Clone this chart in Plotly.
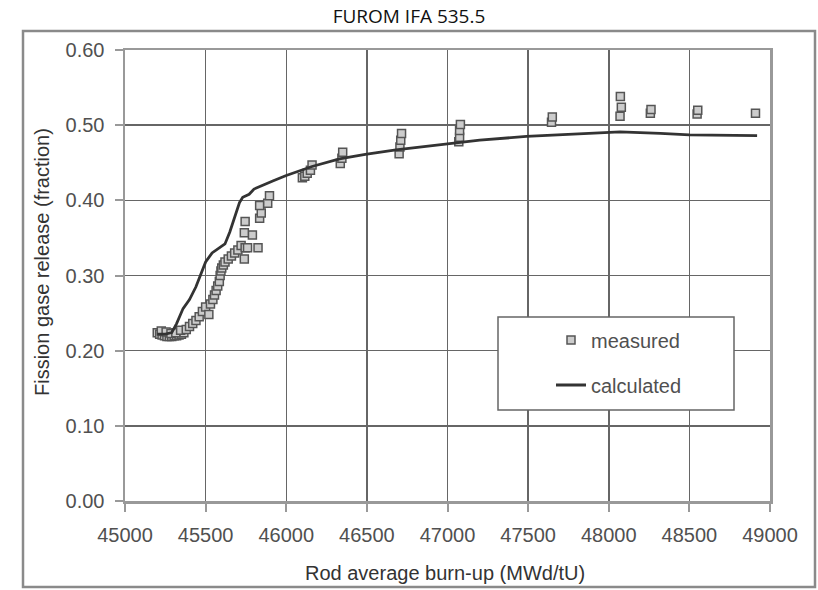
import plotly.graph_objects as go

# ---- data ----
measured_x = [45200, 45215, 45230, 45245, 45260, 45275, 45290, 45305, 45320, 45335, 45350, 45365,
              45225, 45255, 45285, 45315, 45345,
              45380, 45400, 45420, 45440, 45460, 45480, 45500, 45520, 45530, 45545, 45555, 45565,
              45575, 45585, 45590, 45595, 45600, 45610, 45620, 45640, 45660, 45680, 45700, 45720,
              45740, 45745, 45760, 45790, 45825, 45740, 45745, 45835, 45845, 45835, 45885, 45896,
              46100, 46115, 46130, 46150, 46160,
              46335, 46345, 46350,
              46700, 46705, 46710, 46715,
              47070, 47075, 47075, 47080,
              47645, 47650,
              48070, 48078, 48072,
              48258, 48262,
              48548, 48552,
              48910]
measured_y = [0.224, 0.222, 0.221, 0.220, 0.219, 0.219, 0.219, 0.220, 0.220, 0.221, 0.222, 0.224,
              0.226, 0.225, 0.223, 0.224, 0.227,
              0.228, 0.232, 0.236, 0.240, 0.245, 0.252, 0.258, 0.248, 0.262, 0.268, 0.274, 0.280,
              0.286, 0.292, 0.300, 0.306, 0.310, 0.314, 0.318, 0.322, 0.326, 0.330, 0.334, 0.340,
              0.322, 0.337, 0.337, 0.354, 0.337, 0.357, 0.372, 0.376, 0.383, 0.393, 0.396, 0.406,
              0.430, 0.432, 0.436, 0.440, 0.447,
              0.449, 0.456, 0.464,
              0.462, 0.471, 0.480, 0.489,
              0.478, 0.484, 0.493, 0.501,
              0.504, 0.511,
              0.512, 0.524, 0.538,
              0.516, 0.521,
              0.515, 0.520,
              0.516]

calc_x = [45200, 45250, 45290, 45320, 45360, 45400, 45440, 45480, 45500, 45540, 45580, 45620,
          45650, 45670, 45690, 45710, 45730, 45770, 45800, 45860, 45920, 46000, 46080, 46160,
          46330, 46490, 46680, 46880, 47050, 47200, 47490, 47800, 48000, 48070, 48320, 48500, 48920]
calc_y = [0.222, 0.222, 0.224, 0.236, 0.256, 0.268, 0.285, 0.308, 0.318, 0.330, 0.336, 0.342,
          0.358, 0.372, 0.386, 0.397, 0.404, 0.408, 0.415, 0.421, 0.426, 0.433, 0.439, 0.445,
          0.455, 0.461, 0.467, 0.472, 0.476, 0.480, 0.485, 0.488, 0.490, 0.491, 0.489, 0.487, 0.486]

x_ticks = [45000, 45500, 46000, 46500, 47000, 47500, 48000, 48500, 49000]
y_ticks = [0.0, 0.1, 0.2, 0.3, 0.4, 0.5, 0.6]

title_text = "FUROM IFA 535.5"
x_title = "Rod average burn-up (MWd/tU)"
y_title = "Fission gase release (fraction)"

# ---- layout geometry (pixels) ----
W, H = 818, 590
L, R, T, B = 125, 48, 50, 89
pw, ph = W - L - R, H - T - B


def px_x(p):
    return (p - L) / pw


def px_y(p):
    return (H - B - p) / ph


FONT = "Liberation Sans, Arial, sans-serif"

fig = go.Figure()
fig.add_trace(go.Scatter(
    x=measured_x, y=measured_y, mode="markers", name="measured", showlegend=True,
    marker=dict(symbol="square", size=8, color="#cccccc", line=dict(color="#555555", width=1.5)),
    legend="legend"))
fig.add_trace(go.Scatter(
    x=calc_x, y=calc_y, mode="lines", name="calculated", showlegend=True,
    line=dict(color="#333333", width=2.8), legend="legend2"))

axis_font = dict(family=FONT, size=20, color="#505050")
axis_common = dict(showgrid=True, gridcolor="#666666", gridwidth=1.5,
                   showline=True, linecolor="#999999", linewidth=2.5, mirror=True,
                   ticks="outside", ticklen=8, tickcolor="#999999", tickwidth=2,
                   zeroline=False, tickfont=axis_font)

legend_font = dict(family=FONT, size=20, color="#505050")

fig.update_layout(
    width=W, height=H, showlegend=True,
    margin=dict(l=L, r=R, t=T, b=B),
    paper_bgcolor="white", plot_bgcolor="white",
    title=dict(text=title_text, x=0.5, xref="container", xanchor="center",
               y=1 - 16 / H, yref="container", yanchor="middle",
               font=dict(family="Open Sans", size=19, color="#111111")),
    xaxis=dict(range=[45000, 49000], tickvals=x_ticks, ticktext=[str(v) for v in x_ticks],
               ticklabelstandoff=6, **axis_common),
    yaxis=dict(range=[0, 0.6], tickvals=y_ticks, ticktext=["%.2f" % v for v in y_ticks],
               ticklabelstandoff=6, **axis_common),
    legend=dict(x=px_x(551), y=px_y(340), xref="paper", yref="paper",
                xanchor="left", yanchor="middle", bgcolor="rgba(0,0,0,0)", font=legend_font),
    legend2=dict(x=px_x(551), y=px_y(385), xref="paper", yref="paper",
                 xanchor="left", yanchor="middle", bgcolor="rgba(0,0,0,0)", font=legend_font),
    annotations=[
        dict(text=x_title, xref="paper", yref="paper", x=px_x(445), y=px_y(573),
             xanchor="center", yanchor="middle", showarrow=False,
             font=dict(family=FONT, size=20, color="#333333")),
        dict(text=y_title, xref="paper", yref="paper", x=px_x(42), y=px_y(262),
             xanchor="center", yanchor="middle", showarrow=False, textangle=-90,
             font=dict(family=FONT, size=20, color="#333333")),
    ],
    shapes=[
        # legend box
        dict(type="rect", xref="paper", yref="paper",
             x0=px_x(498), x1=px_x(734), y0=px_y(410), y1=px_y(317),
             fillcolor="white", line=dict(color="#666666", width=1.5), layer="above"),
        # outer chart frame
        dict(type="rect", xref="paper", yref="paper",
             x0=px_x(23), x1=px_x(815), y0=px_y(587), y1=px_y(31),
             fillcolor="rgba(0,0,0,0)", line=dict(color="#8a8a8a", width=2.5), layer="below"),
    ],
)

fig.write_html("out.html", config={"displayModeBar": False, "staticPlot": True},
               post_script="document.body.style.margin='0';document.body.style.padding='0';")
